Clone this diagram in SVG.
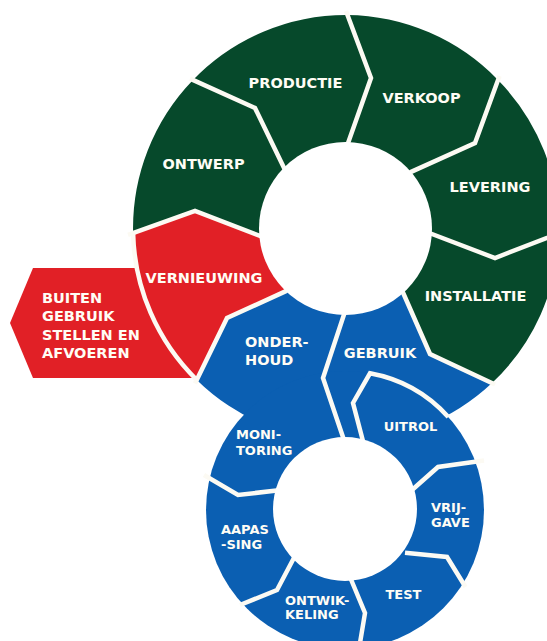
<svg xmlns="http://www.w3.org/2000/svg" width="547" height="641" viewBox="0 0 547 641">
<style>
.g{fill:#06492b}
.r{fill:#e12026}
.b{fill:#0b5fb2}
.hole{fill:#ffffff}
.sep{fill:none;stroke:#fcfaf3;stroke-width:4.5;stroke-linejoin:miter;stroke-miterlimit:10}
.L{font-family:"DejaVu Sans","Verdana",sans-serif;font-weight:bold;font-size:14.5px;fill:#fffdf5}
.S{font-family:"DejaVu Sans","Verdana",sans-serif;font-weight:bold;font-size:13px;fill:#fffdf5}
.m{text-anchor:middle}
</style>
<rect width="547" height="641" fill="#ffffff"/>

<g id="buiten-gebruik-stellen">
  <polygon class="r" points="33,268 140,268 196,378 33,378 10,323"/>
  <text class="L" x="42" y="302.5">BUITEN</text>
  <text class="L" x="42" y="321">GEBRUIK</text>
  <text class="L" x="42" y="339.5">STELLEN EN</text>
  <text class="L" x="42" y="358">AFVOEREN</text>
</g>
<g id="vernieuwing">
  <path class="r" d="M346,228 L284,292 L227,318 L196.8,380 A213,213 0 0 1 133.1,233 L195,211 L262,237 Z"/>
</g>
<g id="ontwerp">
  <path class="g" d="M346,228 L262,237 L195,211 L133.1,233 A213,213 0 0 1 193,80 L255,108 L283,166 Z"/>
</g>
<g id="productie">
  <path class="g" d="M346,228 L283,166 L255,108 L193,80 A213,213 0 0 1 347,15 L371,78 L348,142 Z"/>
</g>
<g id="verkoop">
  <path class="g" d="M346,228 L348,142 L371,78 L347,15 A213,213 0 0 1 498,80 L475,143 L413,171 Z"/>
</g>
<g id="levering">
  <path class="g" d="M346,228 L413,171 L475,143 L498,80 A213,213 0 0 1 559,233.4 L495,258 L432,234 Z"/>
</g>
<g id="installatie">
  <path class="g" d="M346,228 L432,234 L495,258 L559,233.4 A213,213 0 0 1 492,383 L430,354 L403,292 Z"/>
</g>
<g id="blue-cycle">
  <path class="b" d="M346,228 L403,292 L430,354 L492,383 A213,213 0 0 1 196.8,380 L227,318 L284,292 Z"/>
  <circle class="b" cx="345" cy="510" r="139"/>
</g>

<g id="connectors">
  <polyline class="sep" points="128,234.8 195,211 268,239"/>
  <polyline class="sep" points="190,78.6 255,108 286,172"/>
  <polyline class="sep" points="346,11 371,78 347,146"/>
  <polyline class="sep" points="499.5,76 475,143 410,172.4"/>
  <polyline class="sep" points="428,232.5 495,258 562,232"/>
  <polyline class="sep" points="401,288 430,354 495,384.5"/>
  <polyline class="sep" points="287,290.6 227,318 195,383.6"/>
  <path class="sep" d="M133.1,233 A213,213 0 0 0 196.8,380"/>
  <polyline class="sep" points="345.5,310 323,378 346,446"/>
  <path class="sep" d="M364,445 L353,403 L370,373.3 A139,139 0 0 1 448.3,417"/>
  <polyline class="sep" points="412,490 438,467 484,460.5"/>
  <polyline class="sep" points="405,552.7 447,557 465.5,587"/>
  <polyline class="sep" points="350,577 365,613 358.5,652"/>
  <polyline class="sep" points="296,554 277,590 240,605"/>
  <polyline class="sep" points="281,490 238,495 204,475"/>
</g>

<circle class="hole" cx="345.5" cy="228.5" r="86.5"/>
<circle class="hole" cx="345" cy="509" r="72"/>

<g id="labels-big">
  <text class="L m" x="204" y="283">VERNIEUWING</text>
  <text class="L m" x="203.5" y="169">ONTWERP</text>
  <text class="L m" x="295.5" y="88">PRODUCTIE</text>
  <text class="L m" x="421.5" y="103">VERKOOP</text>
  <text class="L m" x="490" y="192">LEVERING</text>
  <text class="L m" x="475.5" y="301">INSTALLATIE</text>
</g>
<g id="gebruik">
  <text class="L m" x="380" y="358">GEBRUIK</text>
</g>
<g id="onderhoud">
  <text class="L" x="245" y="347">ONDER-</text>
  <text class="L" x="245" y="365">HOUD</text>
</g>
<g id="monitoring">
  <text class="S" x="236" y="439">MONI-</text>
  <text class="S" x="236" y="455">TORING</text>
</g>
<g id="uitrol">
  <text class="S m" x="410.5" y="431">UITROL</text>
</g>
<g id="vrijgave">
  <text class="S" x="431" y="512">VRIJ-</text>
  <text class="S" x="431" y="527">GAVE</text>
</g>
<g id="test">
  <text class="S m" x="403.5" y="599">TEST</text>
</g>
<g id="ontwikkeling">
  <text class="S" x="285" y="605">ONTWIK-</text>
  <text class="S" x="285" y="619">KELING</text>
</g>
<g id="aanpassing">
  <text class="S" x="221" y="534">AAPAS</text>
  <text class="S" x="221" y="549">-SING</text>
</g>
</svg>
